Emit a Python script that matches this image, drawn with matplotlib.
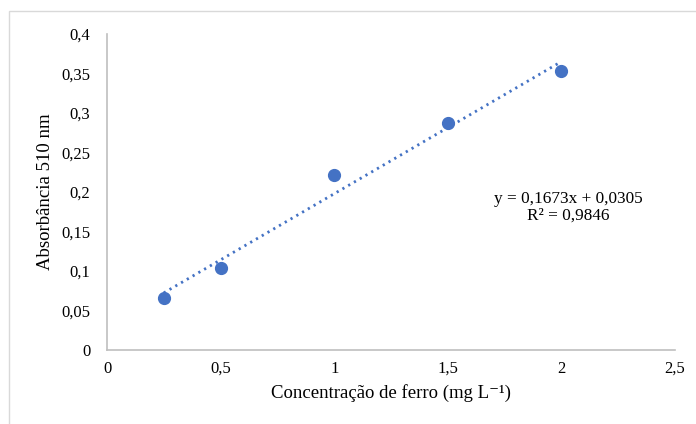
import matplotlib.pyplot as plt
import matplotlib.patches as mpatches
import numpy as np

conc = [0.25, 0.5, 1.0, 1.5, 2.0]
absorb = [0.066, 0.104, 0.222, 0.287, 0.353]
slope = 0.1673
intercept = 0.0305
x_ticks = [0, 0.5, 1, 1.5, 2, 2.5]
y_ticks = [0, 0.05, 0.1, 0.15, 0.2, 0.25, 0.3, 0.35, 0.4]

plt.rcParams['font.family'] = ['Liberation Serif', 'DejaVu Serif']

fig = plt.figure(figsize=(6.96, 4.24), dpi=100)
fig.patches.append(mpatches.Rectangle((9 / 696, -0.1), 1.2, 1 - 11 / 424 + 0.1,
                                      transform=fig.transFigure, fill=False,
                                      edgecolor='#d9d9d9', linewidth=1.0))
ax = fig.add_axes([107 / 696, 1 - 350 / 424, (675 - 107) / 696, (350 - 34) / 424])

fit_x = np.array([conc[0], conc[-1]])
ax.plot(fit_x, slope * fit_x + intercept, linestyle=(0, (0.8, 1.6)), color='#4472c4', linewidth=2)
ax.plot(conc, absorb, 'o', color='#4472c4', markersize=8.5)

ax.set_xlim(0, 2.5)
ax.set_ylim(0, 0.4)
ax.set_xticks(x_ticks)
ax.set_yticks(y_ticks)
ax.set_xticklabels([('%g' % v).replace('.', ',') for v in x_ticks])
ax.set_yticklabels([('%g' % v).replace('.', ',') for v in y_ticks])
ax.tick_params(length=0, labelsize=12)
ax.tick_params(axis='y', pad=12)
ax.tick_params(axis='x', pad=8)
for s in ['top', 'right']:
    ax.spines[s].set_visible(False)
for s in ['left', 'bottom']:
    ax.spines[s].set_color('#bfbfbf')
    ax.spines[s].set_linewidth(1.2)

ax.set_xlabel('Concentração de ferro (mg L⁻¹)', fontsize=13.5, labelpad=5)
ax.set_ylabel('Absorbância 510 nm', fontsize=13.5, labelpad=5)

ax.text(0.812, 0.452, 'y = 0,1673x + 0,0305\nR² = 0,9846', transform=ax.transAxes,
        ha='center', va='center', fontsize=12.4, linespacing=1.0)

fig.savefig('out.png', dpi=100)
